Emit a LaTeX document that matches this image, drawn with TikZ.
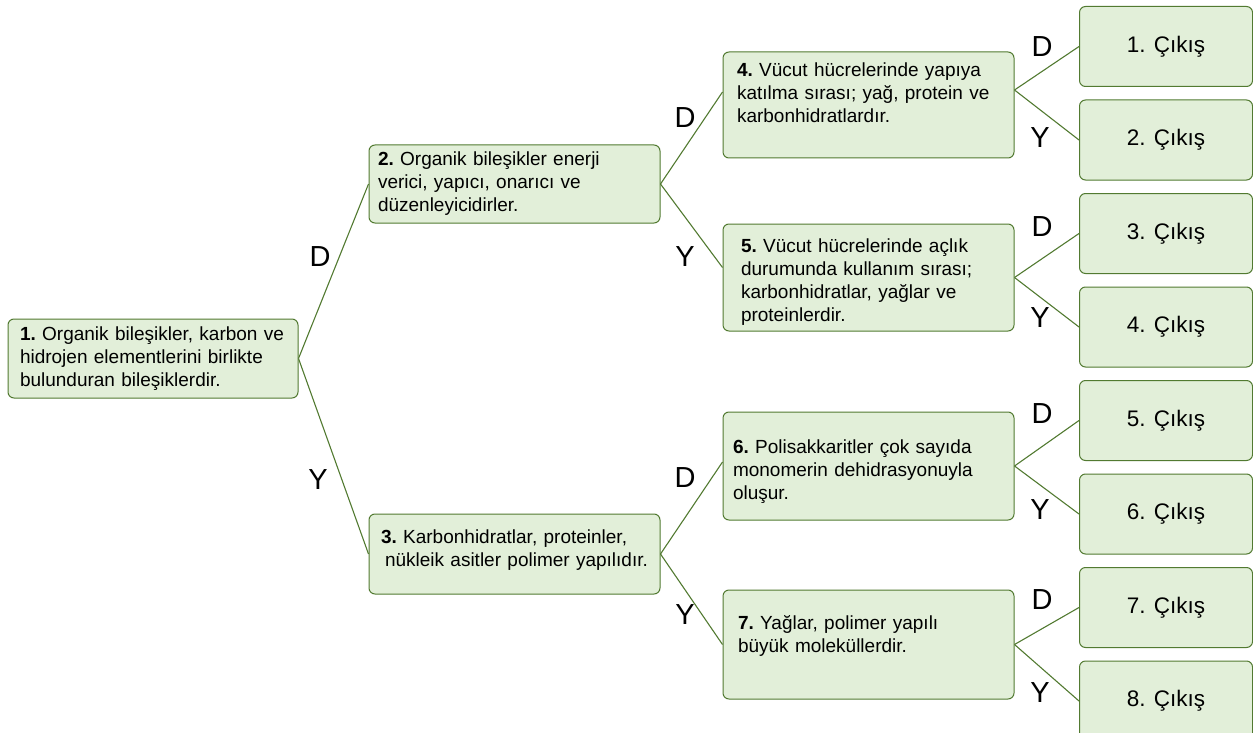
\documentclass[tikz,border=0pt]{standalone}
\usepackage{fontspec}
\setmainfont{Liberation Sans}[WordSpace=0.7]
\newfontfamily\exitfont{Liberation Sans}
\usepackage{xcolor}
\usetikzlibrary{positioning}
\definecolor{boxfill}{HTML}{E2EFD9}
\definecolor{boxline}{HTML}{527A31}

\begin{document}
\begin{tikzpicture}[x=1pt, y=-1pt, node distance=12.5pt,
  box/.style={rectangle, draw=boxline, fill=boxfill, line width=1pt, rounded corners=6pt, align=left, text width=267pt, inner xsep=12pt, inner ysep=4pt, font=\fontsize{19}{23}\selectfont\frenchspacing},
  exitbox/.style={rectangle, draw=boxline, fill=boxfill, line width=1pt, rounded corners=6pt, minimum width=173pt, minimum height=80pt, inner sep=0pt, font=\exitfont\fontsize{22.5}{27}\selectfont},
  link/.style={draw=boxline, line width=1.1pt},
  lbl/.style={inner sep=0pt, font=\exitfont\fontsize{29}{29}\selectfont}]
\useasboundingbox (0,0) rectangle (1253,733);

% sorular
\node[box, minimum height=79pt, text width=266pt] (q1) at (153,358.5) {\textbf{1.} Organik bileşikler, karbon ve\\ hidrojen elementlerini birlikte\\ bulunduran bileşiklerdir.};
\node[box, minimum height=78pt, inner xsep=9pt, text width=273pt] (q2) at (514.5,184) {\textbf{2.} Organik bileşikler enerji\\ verici, yapıcı, onarıcı ve\\ düzenleyicidirler.};
\node[box, minimum height=80pt] (q3) at (514.5,554) {\textbf{3.} Karbonhidratlar, proteinler,\\ \hspace*{4pt}nükleik asitler polimer yapılıdır.\par\kern7pt};
\node[box, minimum height=106pt, inner xsep=14pt, text width=263pt] (q4) at (868.5,105) {\textbf{4.} Vücut hücrelerinde yapıya\\ katılma sırası; yağ, protein ve\\ karbonhidratlardır.\par\kern24pt};
\node[box, minimum height=107pt, inner xsep=18pt, text width=255pt] (q5) at (868.5,277.5) {\textbf{5.} Vücut hücrelerinde açlık\\ durumunda kullanım sırası;\\ karbonhidratlar, yağlar ve\\ proteinlerdir.\par\kern-10pt};
\node[box, minimum height=108pt, inner xsep=10pt, text width=271pt] (q6) at (868.5,466) {\textbf{6.} Polisakkaritler çok sayıda\\ monomerin dehidrasyonuyla\\ oluşur.\par\kern-11pt};
\node[box, minimum height=109pt, inner xsep=15pt, text width=261pt] (q7) at (868.5,644.5) {\textbf{7.} Yağlar, polimer yapılı\\ büyük moleküllerdir.\par\kern17pt};

% cikislar
\node[exitbox, anchor=north west] (c1) at (1079,6) {1. Çıkış};
\node[exitbox, below=of c1] (c2) {2. Çıkış};
\node[exitbox, below=of c2] (c3) {3. Çıkış};
\node[exitbox, below=of c3] (c4) {4. Çıkış};
\node[exitbox, below=of c4] (c5) {5. Çıkış};
\node[exitbox, below=of c5] (c6) {6. Çıkış};
\node[exitbox, below=of c6] (c7) {7. Çıkış};
\node[exitbox, below=of c7] (c8) {8. Çıkış};

% baglantilar
\draw[link] (q1.east) -- (q2.west);
\draw[link] (q1.east) -- (q3.west);
\draw[link] (q2.east) -- ([yshift=13pt]q4.west);
\draw[link] (q2.east) -- ([yshift=10pt]q5.west);
\draw[link] (q3.east) -- ([yshift=4pt]q6.west);
\draw[link] (q3.east) -- (q7.west);
\draw[link] ([yshift=15pt]q4.east) -- (c1.west);
\draw[link] ([yshift=15pt]q4.east) -- (c2.west);
\draw[link] (q5.east) -- (c3.west);
\draw[link] (q5.east) -- (c4.west);
\draw[link] (q6.east) -- (c5.west);
\draw[link] (q6.east) -- (c6.west);
\draw[link] (q7.east) -- (c7.west);
\draw[link] (q7.east) -- (c8.west);

% D / Y
\node[lbl] (d1) at (320,257) {D};
\node[lbl] (y1) at (318,480) {Y};
\node[lbl] (d2) at (685,118) {D};
\node[lbl] (y2) at (685,257) {Y};
\node[lbl] (d3) at (685,478) {D};
\node[lbl] (y3) at (685,615) {Y};
\node[lbl] (d4) at (1042,47) {D};
\node[lbl] (y4) at (1040,138) {Y};
\node[lbl] (d5) at (1042,227) {D};
\node[lbl] (y5) at (1040,318) {Y};
\node[lbl] (d6) at (1042,414) {D};
\node[lbl] (y6) at (1040,510) {Y};
\node[lbl] (d7) at (1042,600) {D};
\node[lbl] (y7) at (1040,693) {Y};
\end{tikzpicture}
\end{document}
